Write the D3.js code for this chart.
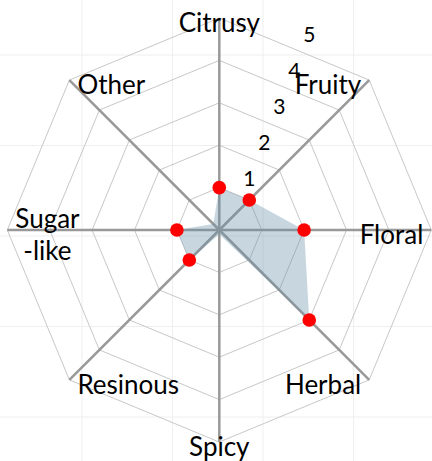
<!DOCTYPE html>
<html>
<meta charset="utf-8">
<style>
    body { margin: 0; background: #fff; }
    text { font-family: Lato, sans-serif; fill: #000; }
    .axis-label { font-size: 26px; }
    .tick-label { font-size: 21px; }
</style>

<body>
    <svg id="chart" width="432" height="461"></svg>
    <script src="https://cdn.jsdelivr.net/npm/d3@7"></script>
    <script>

        const categories = ["Citrusy", "Fruity", "Floral", "Herbal", "Spicy", "Resinous", "Sugar\n-like", "Other"];
        const values = [1, 1, 2, 3, 0.1, 1, 1, 0.2];
        const tickValues = [1, 2, 3, 4, 5];

        const width = 432, height = 461;
        const cx = 219.3, cy = 230;
        const radius = 212;
        const maxValue = 5;

        const svg = d3.select("#chart");

        // faint cartesian grid behind the radar
        const bgScale = d3.scaleLinear().domain([0, 1]).range([82, 172.5]);
        const bgX = d3.range(-1, 5).map(bgScale);
        const bgY = d3.range(-1, 5).map(i => bgScale(i) - 27);
        svg.append("g").selectAll("line.vx").data(bgX).enter().append("line")
            .attr("x1", d => d).attr("x2", d => d).attr("y1", 0).attr("y2", height)
            .attr("stroke", "#efefef").attr("stroke-width", 1);
        svg.append("g").selectAll("line.hy").data(bgY).enter().append("line")
            .attr("y1", d => d).attr("y2", d => d).attr("x1", 0).attr("x2", width)
            .attr("stroke", "#efefef").attr("stroke-width", 1);

        const r = d3.scaleLinear().domain([0, maxValue]).range([0, radius]);
        const angle = d3.scaleLinear().domain([0, categories.length]).range([0, 2 * Math.PI]);

        const point = (i, v) => [cx + r(v) * Math.sin(angle(i)), cy - r(v) * Math.cos(angle(i))];

        const g = svg.append("g");

        // rings
        const ringLine = d3.line();
        g.selectAll(".ring").data(tickValues).enter().append("path")
            .attr("d", t => ringLine(categories.map((c, i) => point(i, t))) + "Z")
            .attr("fill", "none")
            .attr("stroke", "#c8c8c8")
            .attr("stroke-width", 1);

        // axes
        g.selectAll(".spoke").data(categories).enter().append("line")
            .attr("x1", cx).attr("y1", cy)
            .attr("x2", (c, i) => point(i, maxValue)[0])
            .attr("y2", (c, i) => point(i, maxValue)[1])
            .attr("stroke", "#999")
            .attr("stroke-width", 2.5);

        // data area
        const area = d3.line().curve(d3.curveLinearClosed);
        g.append("path")
            .attr("d", area(values.map((v, i) => point(i, v))))
            .attr("fill", "rgb(100,140,165)")
            .attr("fill-opacity", 0.36)
            .attr("stroke", "none");

        g.selectAll(".dot").data(values.map((v, i) => ({ v, i })).filter(d => d.v >= 0.5)).enter().append("circle")
            .attr("cx", d => point(d.i, d.v)[0])
            .attr("cy", d => point(d.i, d.v)[1])
            .attr("r", 6.8)
            .attr("fill", "#ff0000");

        // tick labels along the edge between the first two axes
        const mid = Math.PI / categories.length;
        g.selectAll(".tick-label").data(tickValues).enter().append("text")
            .attr("class", "tick-label")
            .attr("x", t => cx + r(t) * Math.cos(mid) * Math.sin(mid) + 15)
            .attr("y", t => cy - r(t) * Math.cos(mid) * Math.cos(mid) - 16)
            .attr("text-anchor", "middle")
            .attr("dominant-baseline", "central")
            .text(t => t);

        // axis labels
        const lineHeight = 32;
        categories.forEach((c, i) => {
            const [vx, vy] = point(i, maxValue);
            const s = Math.sin(angle(i));
            const anchor = s > 0.1 ? "end" : (s < -0.1 ? "start" : "middle");
            const x = vx + (s > 0.1 ? -8 : (s < -0.1 ? 8 : 0));
            const lines = c.split("\n");
            const y0 = vy + 14 - (lines.length - 1) * lineHeight / 2;
            const text = g.append("text").attr("class", "axis-label").attr("text-anchor", anchor);
            lines.forEach((l, k) => {
                text.append("tspan").attr("x", x).attr("y", y0 + k * lineHeight).text(l);
            });
            if (lines.length > 1) {
                // center the lines on each other
                const w = d3.max(text.selectAll("tspan").nodes(), n => n.getComputedTextLength());
                text.attr("text-anchor", "middle");
                text.selectAll("tspan").attr("x", anchor === "start" ? x + w / 2 : (anchor === "end" ? x - w / 2 : x));
            }
        });

    </script>
</body>

</html>
